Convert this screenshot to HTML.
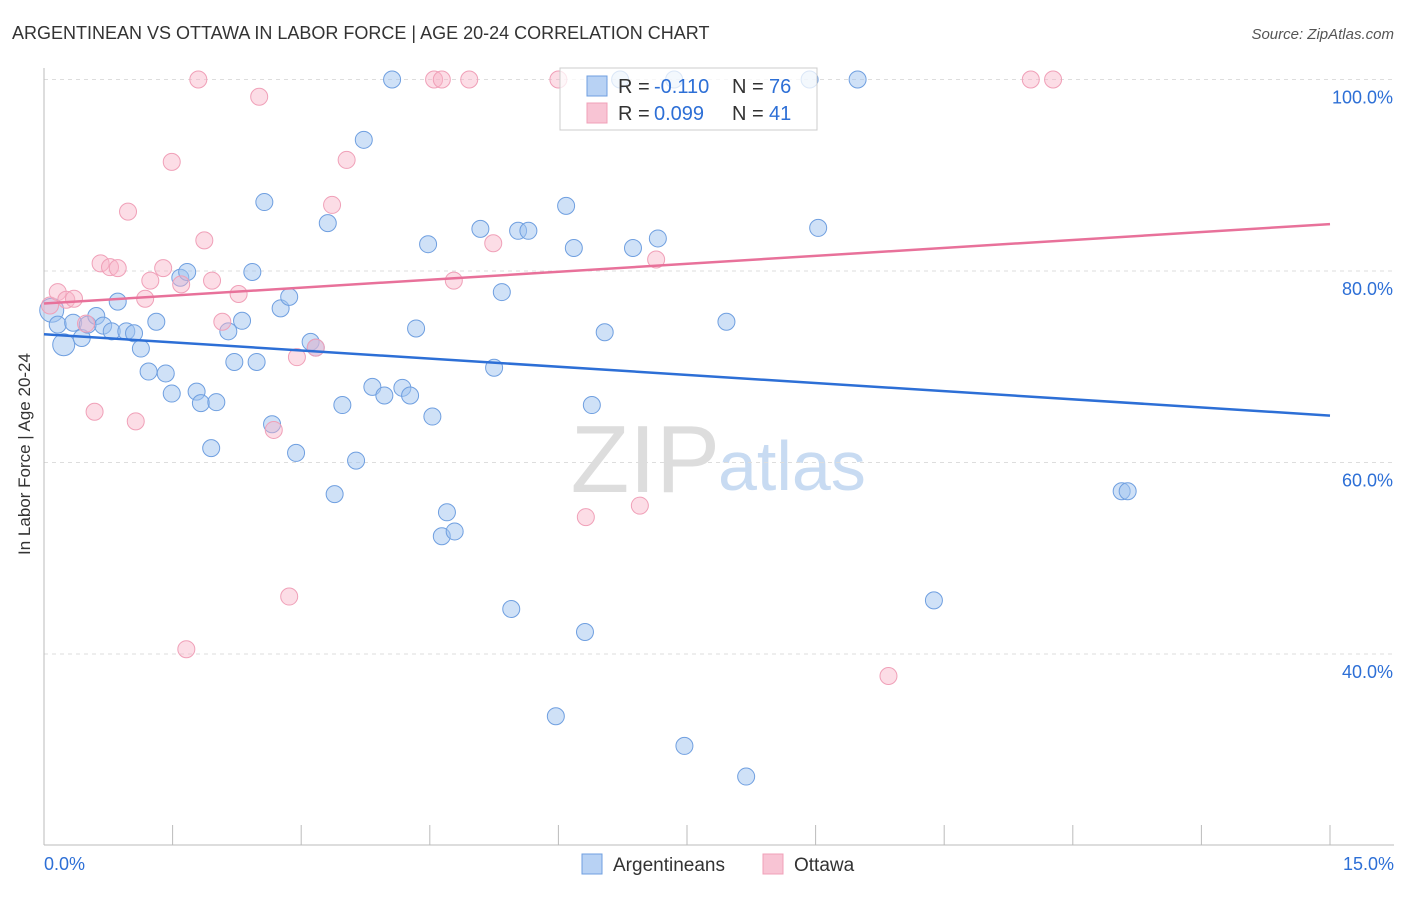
<!DOCTYPE html>
<html><head><meta charset="utf-8"><style>
body{margin:0;background:#fff;font-family:"Liberation Sans",sans-serif;}
svg text{font-family:"Liberation Sans",sans-serif;}
</style></head><body>
<svg id="c" width="1406" height="892" xmlns="http://www.w3.org/2000/svg">
<text x="12" y="39" font-size="18" fill="#333">ARGENTINEAN VS OTTAWA IN LABOR FORCE | AGE 20-24 CORRELATION CHART</text>
<text x="1394" y="39" font-size="15" fill="#555" font-style="italic" text-anchor="end">Source: ZipAtlas.com</text>
<text x="36" y="460" font-size="17" fill="#333" text-anchor="middle" transform="rotate(-90 30 460)">In Labor Force | Age 20-24</text>
<text x="720" y="492" font-size="96" fill="#ddd" text-anchor="end" font-family="Liberation Serif">ZIP</text>
<text x="718" y="490" font-size="70" fill="#c8dbf2">atlas</text>
<g id="grid"></g><g id="pts"></g><g id="lines"></g>
<g>
<rect x="560" y="68" width="257" height="62" fill="#fff" fill-opacity="0.75" stroke="#ccc"/>
<rect x="587" y="76" width="20" height="20" fill="#b8d2f4" stroke="#6f9fe0"/>
<text x="618" y="93" font-size="20" fill="#333">R =</text>
<text x="654" y="93" font-size="20" fill="#2d6fd6">-0.110</text>
<text x="732" y="93" font-size="20" fill="#333">N =</text>
<text x="769" y="93" font-size="20" fill="#2d6fd6">76</text>
<rect x="587" y="103" width="20" height="20" fill="#f8c4d4" stroke="#f0a0b8"/>
<text x="618" y="120" font-size="20" fill="#333">R =</text>
<text x="654" y="120" font-size="20" fill="#2d6fd6">0.099</text>
<text x="732" y="120" font-size="20" fill="#333">N =</text>
<text x="769" y="120" font-size="20" fill="#2d6fd6">41</text>
</g>
<g>
<rect x="582" y="854" width="20" height="20" fill="#b8d2f4" stroke="#6f9fe0"/>
<text x="613" y="871" font-size="19" fill="#333">Argentineans</text>
<rect x="763" y="854" width="20" height="20" fill="#f8c4d4" stroke="#f0a0b8"/>
<text x="794" y="871" font-size="19" fill="#333">Ottawa</text>
</g>
<text x="44" y="870" font-size="18" fill="#2d6fd6">0.0%</text>
<text x="1394" y="870" font-size="18" fill="#2d6fd6" text-anchor="end">15.0%</text>
</svg>
<script>
const yTicks=[100,80,60,40];
const yTickLabels=["100.0%","80.0%","60.0%","40.0%"];
const blueX=[.09,.16,.23,.34,.44,.51,.61,.69,.79,.96,1.05,1.13,.86,1.22,1.31,1.42,1.49,1.59,1.67,1.78,1.83,2.01,1.95,2.15,2.22,2.31,2.43,2.48,2.57,2.66,2.76,2.86,2.94,3.11,3.17,3.31,3.39,3.48,3.64,3.73,3.83,3.97,4.06,4.18,4.27,4.34,4.48,4.53,4.64,4.70,4.79,5.09,5.25,5.34,5.45,5.53,5.65,5.97,6.09,6.18,6.31,6.39,6.54,6.72,6.87,7.16,7.47,7.96,8.19,8.93,9.03,9.49,10.38,12.57,12.64,7.35];
const blueY=[75.9,74.4,72.3,74.6,73.0,74.4,75.3,74.3,73.7,73.7,73.5,71.9,76.8,69.5,74.7,69.3,67.2,79.3,79.9,67.4,66.2,66.3,61.5,73.7,70.5,74.8,79.9,70.5,87.2,64.0,76.1,77.3,61.0,72.6,72.0,85.0,56.7,66.0,60.2,93.7,67.9,67.0,100,67.8,67.0,74.0,82.8,64.8,52.3,54.8,52.8,84.4,69.9,77.8,44.7,84.2,84.2,33.5,86.8,82.4,42.3,66.0,73.6,100,82.4,83.4,30.4,74.7,27.2,100,84.5,100,45.6,57.0,57.0,100];
const pinkX=[.07,.16,.26,.35,.49,.59,.66,.77,.86,.98,1.07,1.18,1.24,1.39,1.49,1.60,1.66,1.80,1.87,1.96,2.08,2.27,2.51,2.68,2.86,2.95,3.17,3.36,3.53,4.55,4.64,4.78,4.96,5.24,6.00,6.32,6.95,7.14,9.85,11.51,11.77];
const pinkY=[76.4,77.8,77.0,77.1,74.5,65.3,80.8,80.4,80.3,86.2,64.3,77.1,79.0,80.3,91.4,78.6,40.5,100,83.2,79.0,74.7,77.6,98.2,63.4,46.0,71.0,72.0,86.9,91.6,100,100,79.0,100,82.9,100,54.3,55.5,81.2,37.7,100,100];
const blueTrend=[73.4,64.9];
const pinkTrend=[76.6,84.9];
const trendX=[0,15];
const xTicks=[0,1.5,3,4.5,6,7.5,9,10.5,12,13.5,15];
const NS="http://www.w3.org/2000/svg";
const sx=v=>44+v/15*1286;
const sy=v=>79.5+(100-v)*9.575;
function mk(t,a,p){const e=document.createElementNS(NS,t);for(const k in a)e.setAttribute(k,a[k]);p.appendChild(e);return e;}
const g=document.getElementById('grid');
yTicks.forEach((t,i)=>{
 const l=mk('line',{x1:44,x2:1394,y1:sy(t),y2:sy(t),stroke:'#ddd','stroke-dasharray':'4 4'},g);
 
 
 const tx=mk('text',{x:1393,y:sy(t)+24,'font-size':18,fill:'#2d6fd6','text-anchor':'end'},g);
 tx.textContent=yTickLabels[i];
 
 
});
const ax=mk('line',{x1:44,x2:44,y1:68,y2:845,stroke:'#bbb'},g);


const bx=mk('line',{x1:44,x2:1394,y1:845,y2:845,stroke:'#bbb'},g);


xTicks.forEach(t=>{
 const l=mk('line',{x1:sx(t),x2:sx(t),y1:825,y2:845,stroke:'#bbb'},g);
 
 
});
const p=document.getElementById('pts');
blueX.forEach((x,i)=>{
 const r=(i===0?12:(i===2?11:8.5));
 const c=mk('circle',{cx:sx(x),cy:sy(blueY[i]),r:r,fill:'rgba(160,196,240,0.5)',stroke:'#6f9fe0','stroke-width':1},p);
 
 
});
pinkX.forEach((x,i)=>{
 const c=mk('circle',{cx:sx(x),cy:sy(pinkY[i]),r:8.5,fill:'rgba(248,180,200,0.45)',stroke:'#f0a0b8','stroke-width':1},p);
 
 
});
const L=document.getElementById('lines');
const b=mk('line',{x1:sx(trendX[0]),y1:sy(blueTrend[0]),x2:sx(trendX[1]),y2:sy(blueTrend[1]),stroke:'#2d6fd6','stroke-width':2.5},L);


const pk=mk('line',{x1:sx(trendX[0]),y1:sy(pinkTrend[0]),x2:sx(trendX[1]),y2:sy(pinkTrend[1]),stroke:'#e8719a','stroke-width':2.5},L);


</script>
</body></html>
